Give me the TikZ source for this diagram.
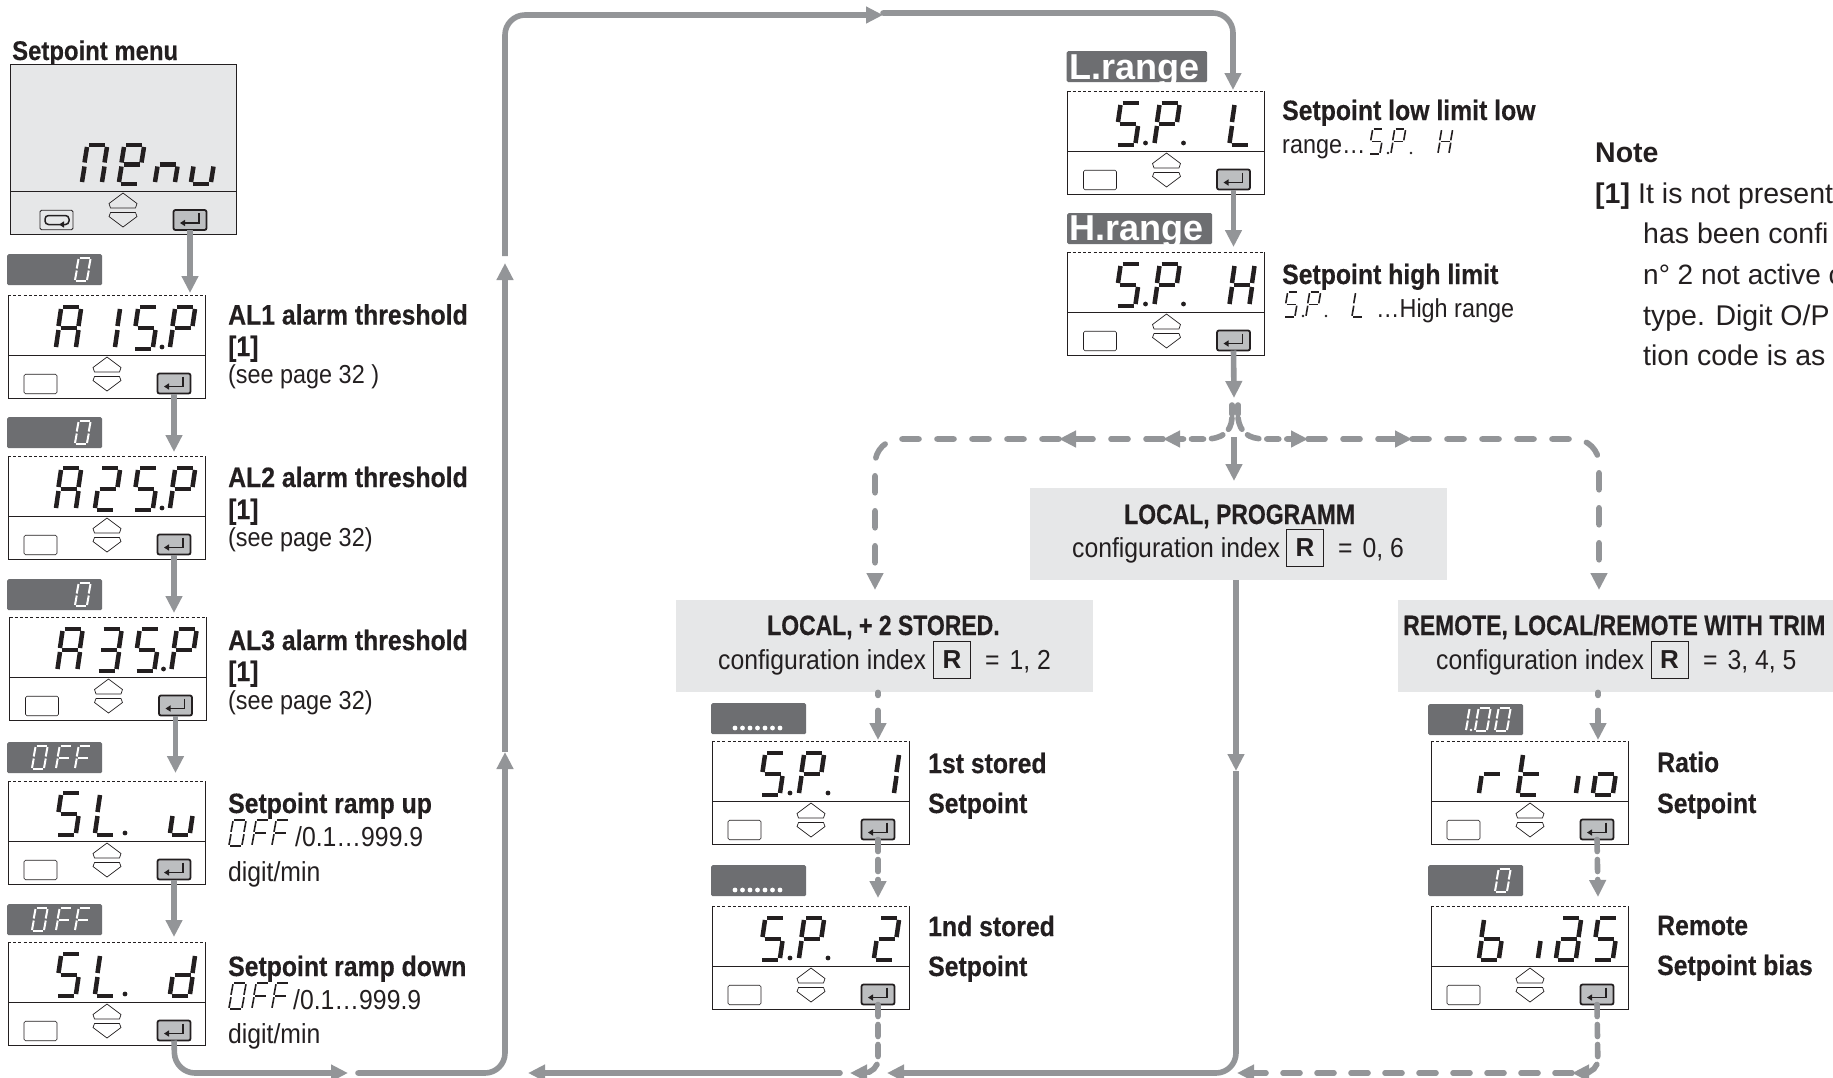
\documentclass[tikz,border=0pt]{standalone}
\usepackage{fontspec}
\usetikzlibrary{arrows.meta}
\setmainfont{Liberation Sans}
\newfontfamily\lab[FakeStretch=0.9,BoldFeatures={FakeStretch=0.885,FakeBold=0.3}]{Liberation Sans}
\newfontfamily\labc[FakeStretch=0.9,BoldFeatures={FakeStretch=0.82,FakeBold=0.3}]{Liberation Sans}
\definecolor{ink}{HTML}{231F20}
\definecolor{flowc}{HTML}{939598}
\definecolor{tabc}{HTML}{6D6E71}
\definecolor{boxc}{HTML}{E6E7E8}
\definecolor{btnc}{HTML}{BCBEC0}
% seven segment
\newcommand\setdg[6]{\def\dgw{#1}\def\dgh{#2}\def\dgs{#3}\def\dgl{#4}\def\dgp{#5}\def\dgc{#6}}
\newcommand\sgta[2]{(#1+\dgs+\dgp,#2)--(#1+\dgs+\dgw-\dgp,#2)}
\newcommand\sgtb[2]{(#1+\dgs+\dgw,#2+\dgp)--(#1+\dgs/2+\dgw,#2+\dgh/2-\dgp)}
\newcommand\sgtc[2]{(#1+\dgs/2+\dgw,#2+\dgh/2+\dgp)--(#1+\dgw,#2+\dgh-\dgp)}
\newcommand\sgtd[2]{(#1+\dgp,#2+\dgh)--(#1+\dgw-\dgp,#2+\dgh)}
\newcommand\sgte[2]{(#1+\dgs/2,#2+\dgh/2+\dgp)--(#1,#2+\dgh-\dgp)}
\newcommand\sgtf[2]{(#1+\dgs,#2+\dgp)--(#1+\dgs/2,#2+\dgh/2-\dgp)}
\newcommand\sgtg[2]{(#1+\dgs/2+\dgp,#2+\dgh/2)--(#1+\dgs/2+\dgw-\dgp,#2+\dgh/2)}
\newcommand\dgt[3]{\foreach \sgm in #3 {\draw[line width=\dgl pt,draw=\dgc] \csname sgt\sgm\endcsname{#1}{#2};}}
\def\glA{a,b,c,e,f,g}\def\glS{a,c,d,f,g}\def\glP{a,b,e,f,g}\def\glTwo{a,b,d,e,g}
\def\glThree{a,b,c,d,g}\def\glOne{b,c}\def\glL{d,e,f}\def\glH{b,c,e,f,g}\def\glu{c,d,e}
\def\gld{b,c,d,e,g}\def\glr{e,g}\def\glt{d,e,f,g}\def\gli{c}\def\glo{c,d,e,g}\def\glb{c,d,e,f,g}
\def\gla{a,b,c,d,e,g}\def\gln{c,e,g}\def\glM{a,b,c,e,f}\def\glE{a,b,d,e,f,g}\def\glO{a,b,c,d,e,f}\def\glF{a,e,f,g}
\newcommand\dotat[2]{\fill[ink] (#1,#2) circle (2.4);}
\newcommand\dotsm[2]{\fill[ink] (#1,#2) circle (1.4);}
\tikzset{
  x=1pt,y=-1pt,
  pnl/.style={inner sep=0,outer sep=0,minimum width=197pt,minimum height=103pt,anchor=north west},
  pline/.style={draw=ink,line width=.9pt},
  ptop/.style={draw=ink,line width=.9pt,dash pattern=on 3pt off 2.2pt},
  blankbtn/.style={draw=ink,fill=white,line width=.6pt,rounded corners=1.5pt,minimum width=33pt,minimum height=19.5pt,inner sep=0,outer sep=0},
  enterbtn/.style={draw=ink,fill=btnc,line width=1.8pt,rounded corners=2pt,minimum width=33pt,minimum height=20pt,inner sep=0,outer sep=0},
  tabbox/.style={fill=tabc,rounded corners=1.5pt,minimum width=95pt,minimum height=31pt,inner sep=0,anchor=north west},
  bl/.style={font=\lab\bfseries\fontsize{28}{30}\selectfont,anchor=base west,inner sep=0,text=ink},
  blc/.style={font=\labc\bfseries\fontsize{28}{30}\selectfont,anchor=base west,inner sep=0,text=ink},
  rg/.style={font=\lab\fontsize{26}{30}\selectfont,anchor=base west,inner sep=0,text=ink},
  cf/.style={font=\lab\fontsize{27.5}{30}\selectfont,anchor=base west,inner sep=0,text=ink},
  nt/.style={font=\fontsize{28.5}{30}\selectfont,anchor=base west,inner sep=0,text=ink},
  ntb/.style={font=\bfseries\fontsize{28.5}{30}\selectfont,anchor=base west,inner sep=0,text=ink},
  tabtxt/.style={font=\bfseries\fontsize{36}{38}\selectfont,anchor=base west,inner sep=0,text=white},
  cfgbox/.style={fill=boxc,inner sep=0,anchor=north west},
  rbox/.style={draw=ink,line width=.8pt,minimum width=37pt,minimum height=37pt,inner sep=0,font=\bfseries\fontsize{26}{28}\selectfont,text=ink},
  flow/.style={draw=flowc,line width=5.6pt,-{Triangle[length=17pt,width=16pt]}},
  flowp/.style={draw=flowc,line width=5.6pt},
  dflow/.style={flow,line cap=round,dash pattern=on 17pt off 18pt},
  dshort/.style={flow,line cap=round,dash pattern=on 12pt off 8pt},
}
% hexagon keys + return arrow
\newcommand\keysat[2]{% centre x, top y of keys
  \draw[draw=ink,line width=.7pt,line join=round] (#1,#2)--(#1+14,#2+10.5)--(#1+12.5,#2+15)--(#1-12.5,#2+15)--(#1-14,#2+10.5)--cycle;
  \draw[draw=ink,line width=.7pt,line join=round] (#1,#2+34)--(#1+14,#2+23.5)--(#1+12.5,#2+19.5)--(#1-12.5,#2+19.5)--(#1-14,#2+23.5)--cycle;}
\newcommand\retarrow[2]{%
  \draw[draw=ink,line width=1.5pt,-{Triangle[length=5pt,width=6pt]}] (#1+9,#2-7)--(#1+9,#2+3)--(#1-10,#2+3);}
\newcommand\panel[4]{%
  \def\px{#2}\def\py{#3}%
  \node[pnl,fill=white] (#1) at (#2,#3) {};
  \draw[pline] (#1.north west)--(#1.south west)--(#1.south east)--(#1.north east);
  \draw[ptop] (#1.north west)--(#1.north east);
  \draw[pline,line width=.7pt] (#2,#3+60)--(#2+197,#3+60);
  \node[blankbtn] (#1-bl) at (#2+32.5,#3+89) {};
  \keysat{#2+99}{#3+62}
  \node[enterbtn] (#1-ent) at (#2+166,#3+88.5) {};
  \retarrow{#2+166}{#3+88.5}
  \setdg{20}{42}{5}{4.5}{2}{ink}
  #4}
\newcommand\pcl[2]{\dgt{\px+#1}{\py+12}{#2}}
\newcommand\pdot[1]{\dotat{\px+#1}{\py+52}}
\newcommand\SPdots{\pdot{78}\pdot{116}\pcl{48}{\glS}\pcl{87}{\glP}}
\newcommand\tabval[3]{\node[tabbox] (#1) at (#2,#3) {};}
\newcommand\sgw[3]{\dgt{#1}{#2}{#3}}
\begin{document}
\begin{tikzpicture}
\useasboundingbox (0,0) rectangle (1833,1077);
\fill[white] (0,0) rectangle (1833,1077);

% ------ menu panel
\node[bl,font=\lab\bfseries\fontsize{27}{30}\selectfont] (ttl) at (12,60) {Setpoint menu};
\node[draw=ink,line width=.9pt,fill=boxc,inner sep=0,outer sep=0,minimum width=226pt,minimum height=170pt,anchor=north west] (menu) at (10,64) {};
\draw[pline,line width=.7pt] (10,191)--(236,191);
\node[blankbtn,fill=none,line width=.8pt] (menu-loop) at (56.5,220) {};
\draw[draw=ink,line width=1.5pt,rounded corners=3.5pt,-{Triangle[length=5pt,width=6pt]}] (60,224.5)--(45,224.5)--(45,215.5)--(69,215.5)--(69,224.5)--(59,224.5);
\keysat{123}{193}
\node[enterbtn] (menu-ent) at (190,220) {};
\retarrow{190}{220}
\setdg{20}{39}{5}{4.5}{2}{ink}
\sgw{82}{145}{\glM}\sgw{119}{145}{\glE}
\sgw{155}{145}{\gln}\sgw{191}{145}{\glu}

% ------ left column
\panel{pa}{8}{295}{\pcl{48}{\glA}\pcl{87}{\glOne}\pcl{125}{\glS}\pcl{162}{\glP}\pdot{154}}
\panel{pb}{8}{456}{\pcl{48}{\glA}\pcl{87}{\glTwo}\pcl{125}{\glS}\pcl{162}{\glP}\pdot{154}}
\panel{pc}{9.5}{617}{\pcl{48}{\glA}\pcl{87}{\glThree}\pcl{125}{\glS}\pcl{162}{\glP}\pdot{154}}
\panel{pd}{8}{781}{\pcl{48}{\glS}\pcl{87}{\glL}\pcl{162}{\glu}\pdot{117}}
\panel{pe}{8}{942}{\pcl{48}{\glS}\pcl{87}{\glL}\pcl{162}{\gld}\pdot{117}}
% ------ middle column
\panel{pl}{1067.5}{91}{\SPdots\pcl{162}{\glL}}
\panel{ph}{1067.5}{252}{\SPdots\pcl{162}{\glH}}
\panel{ps}{712}{741}{\SPdots\pcl{162}{\glOne}}
\panel{pt}{712}{906}{\SPdots\pcl{162}{\glTwo}}
\panel{pr}{1431}{741}{\pcl{48}{\glr}\pcl{87}{\glt}\pcl{125}{\gli}\pcl{162}{\glo}}
\panel{pi}{1431}{906}{\pcl{48}{\glb}\pcl{87}{\gli}\pcl{125}{\gla}\pcl{162}{\glS}}

% ------ value tabs
\tabval{ta}{7}{254}\tabval{tb}{7}{417}\tabval{tc}{7}{579}\tabval{td}{7}{742}\tabval{te}{7}{904}
\tabval{ts}{711}{703}\tabval{tt}{711}{865}\tabval{tr}{1428}{704}\tabval{ti}{1428}{865}
\node[tabbox,minimum width=140.5pt] (tl) at (1066.5,51) {};
\node[tabbox,minimum width=145pt] (th) at (1067,213) {};
\node[tabtxt] (tlt) at (1069,79) {L.range};
\node[tabtxt] (tht) at (1069,240.6) {H.range};
\setdg{12}{23}{3.5}{2}{1}{white}
\sgw{75}{258}{\glO}\sgw{75}{421}{\glO}\sgw{75}{583}{\glO}
\sgw{1495}{869}{\glO}
\sgw{32}{746}{\glO}\sgw{56}{746}{\glF}\sgw{75}{746}{\glF}
\sgw{32}{908}{\glO}\sgw{56}{908}{\glF}\sgw{75}{908}{\glF}
\sgw{1454}{708}{\glOne}\sgw{1475}{708}{\glO}\sgw{1495}{708}{\glO}
\coordinate (onedot) at (1471,730);
\fill[white] (onedot) circle (1.3);
\foreach \dx in {0,...,6}{\fill[white] (735+7.5*\dx,728) circle (2.4);\fill[white] (735+7.5*\dx,890) circle (2.4);}

% ------ texts left
\node[bl] (l1) at (228,324.5) {AL1 alarm threshold};
\node[bl] (l1b) at (228,356) {[1]};
\node[rg] (l1c) at (228,383) {(see page 32 )};
\node[bl] (l2) at (228,487) {AL2 alarm threshold};
\node[bl] (l2b) at (228,519) {[1]};
\node[rg] (l2c) at (228,546.5) {(see page 32)};
\node[bl] (l3) at (228,650) {AL3 alarm threshold};
\node[bl] (l3b) at (228,681) {[1]};
\node[rg] (l3c) at (228,709) {(see page 32)};
\node[bl] (l4) at (228,813) {Setpoint ramp up};
\node[cf] (l4b) at (295,846) {/0.1…999.9};
\node[cf] (l4c) at (228,881) {digit/min};
\node[bl] (l5) at (228,976) {Setpoint ramp down};
\node[cf] (l5b) at (293,1009) {/0.1…999.9};
\node[cf] (l5c) at (228,1043) {digit/min};
\setdg{13}{26}{4}{1.6}{1.2}{ink}
\sgw{229}{820}{\glO}\sgw{252}{820}{\glF}\sgw{272}{820}{\glF}
\sgw{229}{983}{\glO}\sgw{252}{983}{\glF}\sgw{272}{983}{\glF}

% ------ texts middle
\node[bl] (m1) at (1282,120) {Setpoint low limit low};
\node[rg] (m1b) at (1282,153) {range…};
\node[bl] (m2) at (1282,284) {Setpoint high limit};
\node[rg] (m2b) at (1376,317) {…High range};
\setdg{11}{25}{3.5}{1.6}{1.2}{ink}
\sgw{1369}{129}{\glS}\sgw{1391}{129}{\glP}\dotsm{1388}{153}\dotsm{1411}{153}\sgw{1438}{129}{\glH}
\sgw{1284}{292}{\glS}\sgw{1306}{292}{\glP}\dotsm{1303}{316}\dotsm{1326}{316}\sgw{1352}{292}{\glL}

% ------ notes
\node[ntb] (n0) at (1595,162) {Note};
\node[ntb] (n1) at (1595,203) {[1]};
\node[nt] (n1b) at (1638,203) {It is not present};
\node[nt] (n2) at (1643,243.5) {has been confi};
\node[nt,font=\fontsize{28}{30}\selectfont] (n3) at (1643,284) {n° 2 not active c};
\node[nt] (n4) at (1643,325) {type. Digit O/P};
\node[nt] (n5) at (1643,365) {tion code is as};

% ------ configuration boxes
\node[cfgbox,minimum width=417pt,minimum height=92pt] (bl) at (676,600) {};
\node[cfgbox,minimum width=417pt,minimum height=92pt] (bc) at (1030,488) {};
\node[cfgbox,minimum width=440pt,minimum height=92pt] (br) at (1398,600) {};
\node[blc] (bl1) at (767,635) {LOCAL, + 2 STORED.};
\node[cf] (bl2) at (718,669) {configuration index};
\node[rbox] (blr) at (952,659.5) {R};
\node[cf] (bl3) at (985,669) {= \hspace{3pt}1, 2};
\node[blc] (bc1) at (1124,524) {LOCAL, PROGRAMM};
\node[cf] (bc2) at (1072,557) {configuration index};
\node[rbox] (bcr) at (1305,547.5) {R};
\node[cf] (bc3) at (1338,557) {= \hspace{3pt}0, 6};
\node[blc] (br1) at (1403,635) {REMOTE, LOCAL/REMOTE WITH TRIM};
\node[cf] (br2) at (1436,669) {configuration index};
\node[rbox] (brr) at (1669.5,659.5) {R};
\node[cf] (br3) at (1703,669) {= \hspace{3pt}3, 4, 5};

% ------ stored labels
\node[bl] (s1) at (928,773) {1st stored};
\node[bl] (s1b) at (928,813) {Setpoint};
\node[bl] (s2) at (928,936) {1nd stored};
\node[bl] (s2b) at (928,976) {Setpoint};
\node[bl] (r1) at (1657,772) {Ratio};
\node[bl] (r1b) at (1657,813) {Setpoint};
\node[bl] (r2) at (1657,935) {Remote};
\node[bl] (r2b) at (1657,975) {Setpoint bias};

% ------ connectors, left column
\draw[flow,shorten >=2pt] (menu-ent.south)--(menu-ent.south |- pa.north);
\draw[flow,shorten >=4pt] (pa-ent.south)--(pa-ent.south |- pb.north);
\draw[flow,shorten >=4pt] (pb-ent.south)--(pb-ent.south |- pc.north);
\draw[flow,shorten >=8pt] (pc-ent.south)--(pc-ent.south |- pd.north);
\draw[flow,shorten >=5pt] (pd-ent.south)--(pd-ent.south |- pe.north);
% ------ big loop
\coordinate (c1) at (175,1073); \coordinate (c2) at (348,1073);
\coordinate (c3) at (358,1073); \coordinate (c4) at (505,1073);
\coordinate (c5) at (505,752); \coordinate (c6) at (505,263);
\coordinate (c7) at (505,256); \coordinate (c8) at (505,15); \coordinate (c9) at (883,15);
\coordinate (c10) at (883,13); \coordinate (c11) at (1233,13); \coordinate (c12) at (1233,90);
\draw[flow,rounded corners=20pt] (pe-ent.south)--(c1)--(c2);
\draw[flow,rounded corners=20pt,line cap=round] (c3)--(c4)--(c5);
\draw[flow] (c5)--(c6);
\draw[flow,rounded corners=20pt] (c7)--(c8)--(c9);
\draw[flow,rounded corners=20pt,line cap=round] (c10)--(c11)--(c12);
% ------ middle column
\draw[flow,shorten >=5pt] (pl-ent.south)--(pl-ent.south |- ph.north);
\coordinate (spt) at (1234,398);
\draw[flow] (ph-ent.south)--(spt);
\coordinate (ce0) at (1234,437); \coordinate (ce1) at (1234,481);
\draw[flow] (ce0)--(ce1);
\coordinate (le0) at (1232,405); \coordinate (le1) at (1232,418); \coordinate (le2) at (1205,439);
\coordinate (le3) at (1163,439); \coordinate (le4) at (1059,439);
\coordinate (le5) at (875,439); \coordinate (le6) at (875,590);
\draw[flowp,line cap=round,dash pattern=on 9pt off 8pt] (le0)--(le1);
\draw[dshort] (le1) .. controls (1231,432) and (1222,439) .. (le2)--(le3);
\draw[dflow] (le3)--(le4);
\draw[dflow,rounded corners=25pt] (le4)--(le5)--(le6);
\coordinate (re0) at (1238,405); \coordinate (re1) at (1238,418); \coordinate (re2) at (1265,439);
\coordinate (re3) at (1308,439); \coordinate (re4) at (1412,439);
\coordinate (re5) at (1599,439); \coordinate (re6) at (1599,590);
\draw[flowp,line cap=round,dash pattern=on 9pt off 8pt] (re0)--(re1);
\draw[dshort] (re1) .. controls (1240,432) and (1248,439) .. (re2)--(re3);
\draw[dflow] (re3)--(re4);
\draw[dflow,rounded corners=25pt] (re4)--(re5)--(re6);
% ------ centre return
\coordinate (rm) at (1236,771); \coordinate (rc) at (1236,1073); \coordinate (rl) at (887,1073);
\coordinate (rl2) at (840,1073); \coordinate (rl3) at (528,1073);
\draw[flow] (bc.south -| rm)--(rm);
\draw[flow,rounded corners=20pt] (rm)--(rc)--(rl);
\draw[flow,line cap=round] (rl2)--(rl3);
% ------ stored column
\coordinate (sa) at (878,740); \coordinate (sb) at (878,898); \coordinate (sc) at (878,1073); \coordinate (sd) at (850,1073);
\draw[flow,line cap=round,dash pattern=on 3pt off 15pt on 20pt off 10pt] (bl.south -| sa)--(sa);
\draw[dshort] (ps-ent.south)--(sb);
\draw[dshort,rounded corners=14pt] (pt-ent.south)--(sc)--(sd);
% ------ right column
\coordinate (ta1) at (1598,740); \coordinate (tb1) at (1598,897); \coordinate (tc1) at (1598,1073);
\coordinate (td1) at (1572,1073); \coordinate (te1) at (1237,1073);
\draw[flow,line cap=round,dash pattern=on 3pt off 15pt on 20pt off 10pt] (br.south -| ta1)--(ta1);
\draw[dshort] (pr-ent.south)--(tb1);
\draw[dshort,rounded corners=14pt] (pi-ent.south)--(tc1)--(td1);
\draw[flow,line cap=round,dash pattern=on 17pt off 17pt] (td1)--(te1);
\end{tikzpicture}
\end{document}
